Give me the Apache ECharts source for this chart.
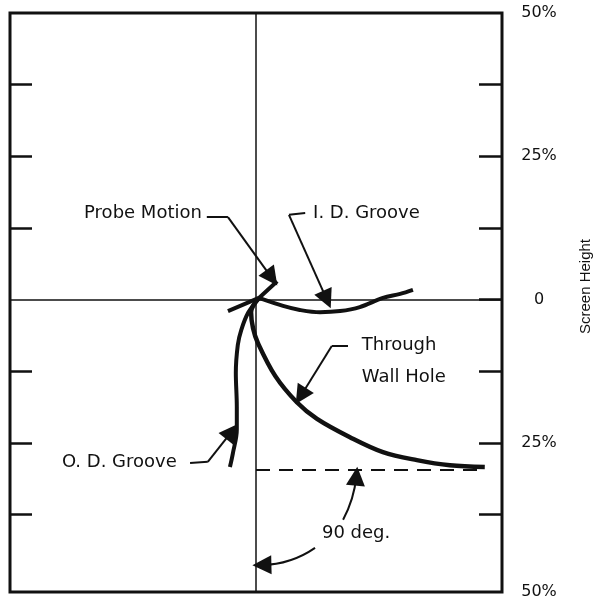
<!DOCTYPE html>
<html>
<head>
<meta charset="utf-8">
<script src="https://cdn.jsdelivr.net/npm/echarts@6/dist/echarts.min.js"></script>
<style>
html,body{margin:0;padding:0;background:#fff;}
#chart{width:598px;height:599px;}
</style>
</head>
<body>
<div id="chart"></div>
<script>
// ---- data (x: phase-plane horizontal, y: screen height %) ----
const probeMotion = [[-5.7,-2.0],[0.6,0.3],[4.3,3.2]];
const idGroove = [[0.6,0.3],[5.5,-1.1],[8.9,-1.8],[13.0,-2.2],[17.1,-2.0],[21.1,-1.3],[25.8,0.3],[29.3,1.0],[31.9,1.7]];
const odGroove = [[0.6,0.3],[-1.6,-2.3],[-3.0,-5.3],[-3.7,-7.9],[-4.1,-12.8],[-3.9,-18.7],[-3.9,-22.7],[-4.7,-26.8],[-5.3,-29.2]];
const throughWall = [[0.6,0.3],[-1.0,-2.2],[-0.6,-5.0],[0.4,-7.6],[3.9,-13.3],[8.3,-17.9],[12.4,-20.8],[19.1,-24.0],[25.8,-26.6],[32.7,-28.0],[39.4,-28.9],[46.5,-29.2]];
const refLine90 = [[0,-29.7],[46.5,-29.7]];

const yTickValuesLeft = [37.5,25,12.5,-12.5,-25,-37.5];
const yTickValuesRight = [37.5,25,12.5,0,-12.5,-25,-37.5];
const yLabelValues = [50,25,0,-25,-51];
const yLabelTexts = ['50%','25%','0','25%','50%'];

const labelNames = ['Probe Motion','I. D. Groove','Through\nWall Hole','O. D. Groove','90 deg.'];
const labelAnchors = [[-11.0,15.1],[11.6,15.1],[21.5,-10.7],[-16.1,-28.3],[13.4,-40.7]];
const labelSides = ['left','right','right','left','right'];

const leaderSegments = [
  [[-10.0,14.4],[-5.7,14.4]],
  [[10.0,15.1],[6.7,14.8]],
  [[18.7,-8.1],[15.4,-8.1]],
  [[-13.4,-28.5],[-9.8,-28.3]]
];
const arrowSegments = [
  [[-5.7,14.4],[3.2,3.8]],
  [[6.7,14.8],[14.4,0.0]],
  [[15.4,-8.1],[9.1,-16.8]],
  [[-9.8,-28.3],[-4.9,-23.0]],
  [[17.7,-38.4],[20.4,-30.8]],
  [[12.0,-43.3],[1.2,-46.3]]
];
const arrowCurve = [0,0,0,0,-0.1,0.15];

const INK = '#111';
const chart = echarts.init(document.getElementById('chart'), null, {renderer:'canvas'});

const traceStyle = (w) => ({type:'line', smooth:0.35, symbol:'none', lineStyle:{color:INK, width:w}, z:5, silent:true});

chart.setOption({
  backgroundColor:'#fff',
  animation:false,
  grid:{left:10, right:96, top:13, bottom:7, outerBoundsMode:'none', containLabel:false,
        show:true, borderColor:INK, borderWidth:3, backgroundColor:'transparent'},
  xAxis:{type:'value', min:-50, max:50, axisLine:{show:false}, axisTick:{show:false}, axisLabel:{show:false}, splitLine:{show:false}},
  yAxis:[
    {type:'value', min:-51, max:50, position:'left',
     axisLine:{show:false, onZero:false}, splitLine:{show:false}, axisLabel:{show:false},
     axisTick:{show:true, inside:true, length:22, customValues:yTickValuesLeft, lineStyle:{color:INK, width:2.5}}},
    {type:'value', min:-51, max:50, position:'right',
     axisLine:{show:false, onZero:false}, splitLine:{show:false},
     axisTick:{show:true, inside:true, length:23, customValues:yTickValuesRight, lineStyle:{color:INK, width:2.5}},
     axisLabel:{show:true, customValues:yLabelValues, margin:37, align:'center',
       fontFamily:'DejaVu Sans', fontSize:16, color:INK,
       formatter:(v)=>{const i=yLabelValues.indexOf(v); return i>=0?yLabelTexts[i]:'';}},
     name:'Screen Height', nameLocation:'middle', nameRotate:90, nameGap:76,
     nameTextStyle:{fontFamily:'Liberation Sans', fontSize:15, color:INK, padding:[0,0,0,32]}}
  ],
  series:[
    {name:'reference', type:'line', data:refLine90, symbol:'none', silent:true,
     lineStyle:{color:INK, width:2, type:[14,9]},
     markLine:{silent:true, symbol:['none','none'], label:{show:false},
       lineStyle:{color:INK, width:1.5, type:'solid'},
       data:[{xAxis:0},{yAxis:0}]}},
    Object.assign({name:'Probe Motion', data:probeMotion}, traceStyle(4), {smooth:false}),
    Object.assign({name:'I. D. Groove', data:idGroove}, traceStyle(4)),
    Object.assign({name:'O. D. Groove', data:odGroove}, traceStyle(4)),
    Object.assign({name:'Through Wall Hole', data:throughWall}, traceStyle(4.5)),
    {name:'leaders', type:'lines', coordinateSystem:'cartesian2d', silent:true, z:6,
     symbol:['none','none'], lineStyle:{color:INK, width:2, opacity:1},
     data:leaderSegments.map(c=>({coords:c}))},
    {name:'arrows', type:'lines', coordinateSystem:'cartesian2d', silent:true, z:6,
     symbol:['none','triangle'], symbolSize:[11,19], lineStyle:{color:INK, width:2, opacity:1},
     itemStyle:{color:INK},
     data:arrowSegments.map((c,i)=>({coords:c, lineStyle:{curveness:arrowCurve[i]}}))},
    {name:'labels', type:'scatter', symbolSize:0, silent:true, z:7,
     itemStyle:{opacity:1},
     data:labelAnchors.map((p,i)=>({value:p, name:labelNames[i],
       label:{show:true, position:labelSides[i], distance:0, formatter:'{b}',
         fontFamily:'DejaVu Sans', fontSize:18, color:INK, lineHeight:32, opacity:1}}))}
  ]
});
</script>
</body>
</html>
